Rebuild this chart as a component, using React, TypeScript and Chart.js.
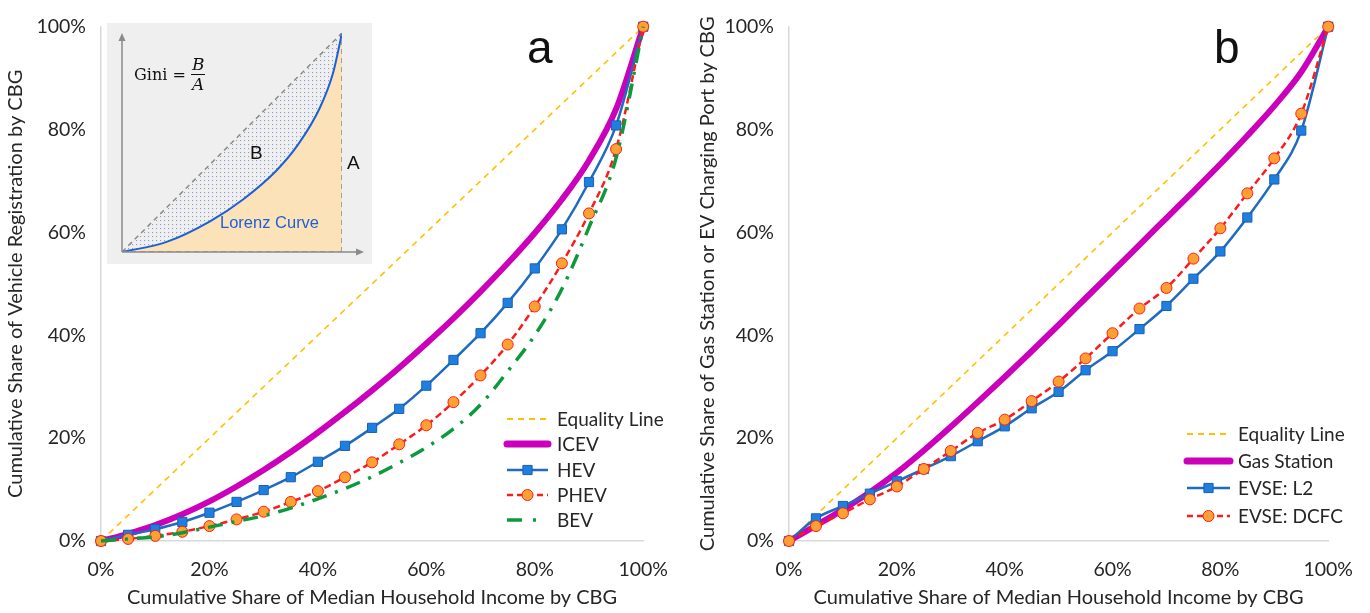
import React, { useEffect, useRef } from 'react';
import { Chart, registerables } from 'chart.js';

Chart.register(...registerables);

// ---------- data ----------
const incomeShare = [0, 5, 10, 15, 20, 25, 30, 35, 40, 45, 50, 55, 60, 65, 70, 75, 80, 85, 90, 95, 100];
const equalityX = [0, 100];
const equalityY = [0, 100];

const icev = [0, 1.4, 3.1, 5.2, 7.7, 10.6, 13.8, 17.3, 21.1, 25.1, 29.3, 33.7, 38.4, 43.3, 48.5, 54.0, 59.9, 66.4, 74.0, 84.0, 100];
const hev = [0, 1.2, 2.3, 3.7, 5.5, 7.6, 9.9, 12.4, 15.4, 18.5, 22, 25.7, 30.2, 35.2, 40.4, 46.3, 53, 60.6, 69.8, 80.8, 100];
const phev = [0, 0.4, 1.0, 1.8, 2.9, 4.2, 5.7, 7.6, 9.7, 12.4, 15.3, 18.8, 22.5, 27, 32.2, 38.2, 45.6, 54, 63.7, 76.2, 100];
const bev = [0, 0.4, 0.8, 1.6, 2.7, 3.8, 4.9, 6.4, 8.2, 10.2, 12.5, 15.2, 18.2, 21.8, 26.5, 33, 40, 49, 61, 74.5, 100];

const gasStation = [0, 3.0, 6.1, 9.5, 13.3, 17.6, 22.2, 27.0, 31.9, 36.9, 42.0, 47.2, 52.4, 57.6, 62.8, 68.0, 73.3, 78.8, 84.6, 91.2, 100];
const evseL2 = [0, 4.4, 6.8, 9.2, 11.6, 14, 16.5, 19.4, 22.3, 25.8, 29, 33.2, 36.9, 41.2, 45.7, 51, 56.3, 62.9, 70.3, 79.8, 100];
const evseDCFC = [0, 2.9, 5.4, 8.1, 10.6, 14, 17.5, 21, 23.6, 27.2, 31, 35.5, 40.4, 45.2, 49.2, 54.9, 60.8, 67.6, 74.4, 83.1, 100];

const pctTicks = [0, 20, 40, 60, 80, 100];

// inset schematic (Lorenz curve illustration)
const insetX = [0, 0.2, 0.4, 0.55, 0.7, 0.8, 0.9, 0.96, 1];
const insetLorenz = [0, 0.045, 0.14, 0.24, 0.37, 0.49, 0.66, 0.82, 1];
const insetEquality = [0, 0.2, 0.4, 0.55, 0.7, 0.8, 0.9, 0.96, 1];
const insetEdgeX = [1, 1];
const insetEdgeY = [0, 1];
const insetBaseX = [0, 1];
const insetBaseY = [0, 0];

// ---------- styling ----------
const FONT = 'Lato, "Open Sans", sans-serif';
const TEXT = '#262626';
const AXIS = '#d9d9d9';
const MAGENTA = '#cc00bb';
const BLUE_LINE = '#1f6bc0';
const BLUE_FILL = '#1e7fe0';
const RED = '#ff1a1a';
const ORANGE = '#ffa033';
const GREEN = '#0c9a3c';
const GOLD = '#ffc000';

const pts = (xs: number[], ys: number[]) => xs.map((x, i) => ({ x, y: ys[i] }));

const manualLegend = {
  id: 'manualLegend',
  afterDraw(chart: any, _a: any, opts: any) {
    if (!opts || !opts.rows) return;
    const ctx = chart.ctx as CanvasRenderingContext2D;
    chart.data.datasets.forEach((d: any, i: number) => {
      const y = opts.rows[i];
      if (y === undefined) return;
      ctx.save();
      ctx.strokeStyle = d.borderColor;
      ctx.lineWidth = d.legendWidth ?? d.borderWidth;
      ctx.setLineDash(d.legendDash ?? d.borderDash ?? []);
      ctx.lineCap = d.legendCap ?? 'butt';
      ctx.beginPath();
      ctx.moveTo(opts.x0, y);
      ctx.lineTo(opts.x1, y);
      ctx.stroke();
      ctx.setLineDash([]);
      const cx = (opts.x0 + opts.x1) / 2;
      const r = d.pointRadius || 0;
      if (r > 0) {
        ctx.fillStyle = d.pointBackgroundColor;
        ctx.strokeStyle = d.pointBorderColor;
        ctx.lineWidth = d.pointBorderWidth ?? 1;
        ctx.beginPath();
        if (d.pointStyle === 'rect') {
          const s = Math.SQRT1_2 * r;
          ctx.rect(cx - s, y - s, 2 * s, 2 * s);
        } else {
          ctx.arc(cx, y, r, 0, Math.PI * 2);
        }
        ctx.fill();
        ctx.stroke();
      }
      ctx.fillStyle = opts.color;
      ctx.font = opts.font;
      ctx.textBaseline = 'middle';
      ctx.textAlign = 'left';
      ctx.fillText(d.label, opts.textX, y + 1);
      ctx.restore();
    });
  },
};

const insetArrows = {
  id: 'insetArrows',
  afterDatasetsDraw(chart: any) {
    const { ctx, chartArea } = chart;
    const { left, right, top, bottom } = chartArea;
    ctx.save();
    ctx.strokeStyle = '#8a8a8a';
    ctx.fillStyle = '#8a8a8a';
    ctx.lineWidth = 1.5;
    ctx.beginPath();
    ctx.moveTo(left, bottom);
    ctx.lineTo(left, top + 6);
    ctx.moveTo(left, bottom);
    ctx.lineTo(right + 17, bottom);
    ctx.stroke();
    ctx.beginPath();
    ctx.moveTo(left, top);
    ctx.lineTo(left - 3.5, top + 8);
    ctx.lineTo(left + 3.5, top + 8);
    ctx.closePath();
    ctx.fill();
    ctx.beginPath();
    ctx.moveTo(right + 22, bottom);
    ctx.lineTo(right + 14, bottom - 3.5);
    ctx.lineTo(right + 14, bottom + 3.5);
    ctx.closePath();
    ctx.fill();
    ctx.restore();
  },
};

function axisOptions(title: string, fixedSize: number, horizontal: boolean, titlePad: number) {
  return {
    type: 'linear',
    min: 0,
    max: 100,
    afterBuildTicks: (s: any) => {
      s.ticks = pctTicks.map((v) => ({ value: v }));
    },
    afterFit: (s: any) => {
      if (horizontal) s.height = fixedSize;
      else s.width = fixedSize;
    },
    grid: { display: false, drawTicks: false },
    border: { display: true, color: AXIS, width: 1.5 },
    ticks: {
      color: TEXT,
      font: { family: FONT, size: 19.5 },
      padding: horizontal ? 17 : 15,
      maxRotation: 0,
      autoSkip: false,
      callback: (v: any) => `${v}%`,
    },
    title: {
      display: true,
      text: title,
      color: TEXT,
      font: { family: FONT, size: 20 },
      padding: horizontal ? { top: 0, bottom: 3 } : { top: titlePad, bottom: 0 },
    },
  };
}

function makeOptions(yTitle: string, yWidth: number, padRight: number, titlePad: number, legend: any) {
  return {
    responsive: false,
    animation: false,
    devicePixelRatio: 1,
    layout: { padding: { top: 21, right: padRight, left: 0, bottom: 0 } },
    elements: { line: { cubicInterpolationMode: 'monotone' } },
    plugins: {
      legend: { display: false },
      tooltip: { enabled: false },
      manualLegend: legend,
    },
    scales: {
      x: axisOptions('Cumulative Share of Median Household Income by CBG', 72, true, 0),
      y: axisOptions(yTitle, yWidth, false, titlePad),
    },
  };
}

function equalityDataset(order: number) {
  return {
    label: 'Equality Line',
    data: pts(equalityX, equalityY),
    borderColor: GOLD,
    borderWidth: 1.6,
    borderDash: [6, 5],
    legendDash: [6, 5],
    legendWidth: 2,
    pointRadius: 0,
    clip: false,
    order,
  };
}

function squareSeries(label: string, ys: number[], order: number) {
  return {
    label,
    data: pts(incomeShare, ys),
    borderColor: BLUE_LINE,
    borderWidth: 2.5,
    pointStyle: 'rect',
    pointRadius: 6.5,
    pointBackgroundColor: BLUE_FILL,
    pointBorderColor: '#1a5fb0',
    pointBorderWidth: 1,
    clip: false,
    order,
  };
}

function circleSeries(label: string, ys: number[], order: number) {
  return {
    label,
    data: pts(incomeShare, ys),
    borderColor: RED,
    borderWidth: 2.5,
    borderDash: [7, 4],
    legendDash: [6, 4],
    pointStyle: 'circle',
    pointRadius: 5.5,
    pointBackgroundColor: ORANGE,
    pointBorderColor: RED,
    pointBorderWidth: 1,
    clip: false,
    order,
  };
}

function thickSeries(label: string, ys: number[], order: number) {
  return {
    label,
    data: pts(incomeShare, ys),
    borderColor: MAGENTA,
    borderWidth: 6,
    legendWidth: 7,
    legendCap: 'round',
    pointRadius: 0,
    clip: false,
    order,
  };
}

function MainChart({ which }: { which: 'a' | 'b' }) {
  const ref = useRef<HTMLCanvasElement | null>(null);
  useEffect(() => {
    if (!ref.current) return;
    let config: any;
    if (which === 'a') {
      config = {
        type: 'line',
        data: {
          datasets: [
            equalityDataset(5),
            thickSeries('ICEV', icev, 4),
            squareSeries('HEV', hev, 3),
            circleSeries('PHEV', phev, 2),
            {
              label: 'BEV',
              data: pts(incomeShare, bev),
              borderColor: GREEN,
              borderWidth: 3.5,
              borderDash: [15, 9, 3, 9],
              legendDash: [15, 11, 3, 20],
              pointRadius: 0,
              clip: false,
              order: 1,
            },
          ],
        },
        options: makeOptions('Cumulative Share of Vehicle Registration by CBG', 101, 40, 4, {
          x0: 507,
          x1: 548,
          textX: 557,
          rows: [419, 444, 470, 495, 520],
          font: `19px ${FONT}`,
          color: TEXT,
        }),
        plugins: [manualLegend],
      };
    } else {
      config = {
        type: 'line',
        data: {
          datasets: [
            equalityDataset(4),
            thickSeries('Gas Station', gasStation, 3),
            squareSeries('EVSE: L2', evseL2, 2),
            circleSeries('EVSE: DCFC', evseDCFC, 1),
          ],
        },
        options: makeOptions('Cumulative Share of Gas Station or EV Charging Port by CBG', 104, 33, 11, {
          x0: 502,
          x1: 545,
          textX: 553,
          rows: [434, 461, 488, 516],
          font: `19px ${FONT}`,
          color: TEXT,
        }),
        plugins: [manualLegend],
      };
    }
    const chart = new Chart(ref.current, config);
    return () => chart.destroy();
  }, [which]);
  return <canvas ref={ref} width={685} height={613} style={{ width: 685, height: 613, display: 'block' }} />;
}

function InsetChart() {
  const ref = useRef<HTMLCanvasElement | null>(null);
  useEffect(() => {
    if (!ref.current) return;
    const pc = document.createElement('canvas');
    pc.width = 4;
    pc.height = 4;
    const pctx = pc.getContext('2d')!;
    pctx.fillStyle = 'rgba(70,100,190,0.6)';
    pctx.fillRect(1, 1, 1.1, 1.1);
    const pattern = ref.current.getContext('2d')!.createPattern(pc, 'repeat');
    const chart = new Chart(ref.current, {
      type: 'line',
      data: {
        datasets: [
          {
            label: 'Lorenz',
            data: pts(insetX, insetLorenz),
            borderColor: '#1f5fd6',
            borderWidth: 2,
            pointRadius: 0,
            fill: 'origin',
            backgroundColor: '#fce2b8',
            cubicInterpolationMode: 'monotone',
            order: 1,
          },
          {
            label: 'Equality',
            data: pts(insetX, insetEquality),
            borderColor: '#8a8a8a',
            borderWidth: 1.5,
            borderDash: [5, 4],
            pointRadius: 0,
            fill: { target: 0 },
            backgroundColor: pattern,
            order: 2,
          },
          {
            label: 'Edge',
            data: pts(insetEdgeX, insetEdgeY),
            borderColor: '#8a8a8a',
            borderWidth: 1.5,
            borderDash: [5, 4],
            pointRadius: 0,
            order: 0,
          },
          {
            label: 'Base',
            data: pts(insetBaseX, insetBaseY),
            borderColor: '#8a8a8a',
            borderWidth: 1.5,
            borderDash: [5, 4],
            pointRadius: 0,
            order: 0,
          },
        ],
      } as any,
      options: {
        responsive: false,
        animation: false,
        devicePixelRatio: 1,
        layout: { padding: { left: 15, top: 10, right: 30, bottom: 12 } },
        plugins: { legend: { display: false }, tooltip: { enabled: false } },
        scales: {
          x: { type: 'linear', min: 0, max: 1, display: false },
          y: { type: 'linear', min: 0, max: 1, display: false },
        },
      } as any,
      plugins: [insetArrows],
    });
    return () => chart.destroy();
  }, []);
  return <canvas ref={ref} width={265} height={241} style={{ width: 265, height: 241, display: 'block' }} />;
}

function Inset() {
  const sans = '"Liberation Sans", Arial, sans-serif';
  return (
    <div style={{ position: 'absolute', left: 107, top: 23, width: 265, height: 241, background: '#efefef' }}>
      <InsetChart />
      <div
        style={{
          position: 'absolute',
          left: 27,
          top: 32,
          fontFamily: '"DejaVu Serif", "Liberation Serif", serif',
          fontSize: 16,
          color: '#111',
          display: 'flex',
          alignItems: 'center',
          whiteSpace: 'nowrap',
        }}
      >
        <span>Gini =&nbsp;</span>
        <span
          style={{
            display: 'inline-flex',
            flexDirection: 'column',
            alignItems: 'center',
            fontStyle: 'italic',
            lineHeight: '19px',
            fontSize: 17,
          }}
        >
          <span style={{ padding: '0 1px' }}>B</span>
          <span style={{ borderTop: '1.2px solid #111', padding: '0 1px' }}>A</span>
        </span>
      </div>
      <div style={{ position: 'absolute', left: 143, top: 119, fontFamily: sans, fontSize: 19, color: '#111' }}>B</div>
      <div style={{ position: 'absolute', left: 240, top: 129, fontFamily: sans, fontSize: 19, color: '#111' }}>A</div>
      <div
        style={{
          position: 'absolute',
          left: 113,
          top: 190,
          fontFamily: sans,
          fontSize: 16.5,
          color: '#1f5fd6',
          whiteSpace: 'nowrap',
        }}
      >
        Lorenz Curve
      </div>
    </div>
  );
}

export default function App() {
  const label = {
    position: 'absolute' as const,
    fontFamily: '"Liberation Sans", Arial, sans-serif',
    fontSize: 46,
    color: '#111',
    lineHeight: '46px',
  };
  return (
    <div style={{ position: 'absolute', left: 0, top: 0, width: 1370, height: 613, background: '#fff', overflow: 'hidden' }}>
      <div style={{ position: 'absolute', left: 0, top: 0 }}>
        <MainChart which="a" />
      </div>
      <div style={{ position: 'absolute', left: 685, top: 0 }}>
        <MainChart which="b" />
      </div>
      <Inset />
      <div style={{ ...label, left: 527, top: 24 }}>a</div>
      <div style={{ ...label, left: 1214, top: 24 }}>b</div>
    </div>
  );
}
